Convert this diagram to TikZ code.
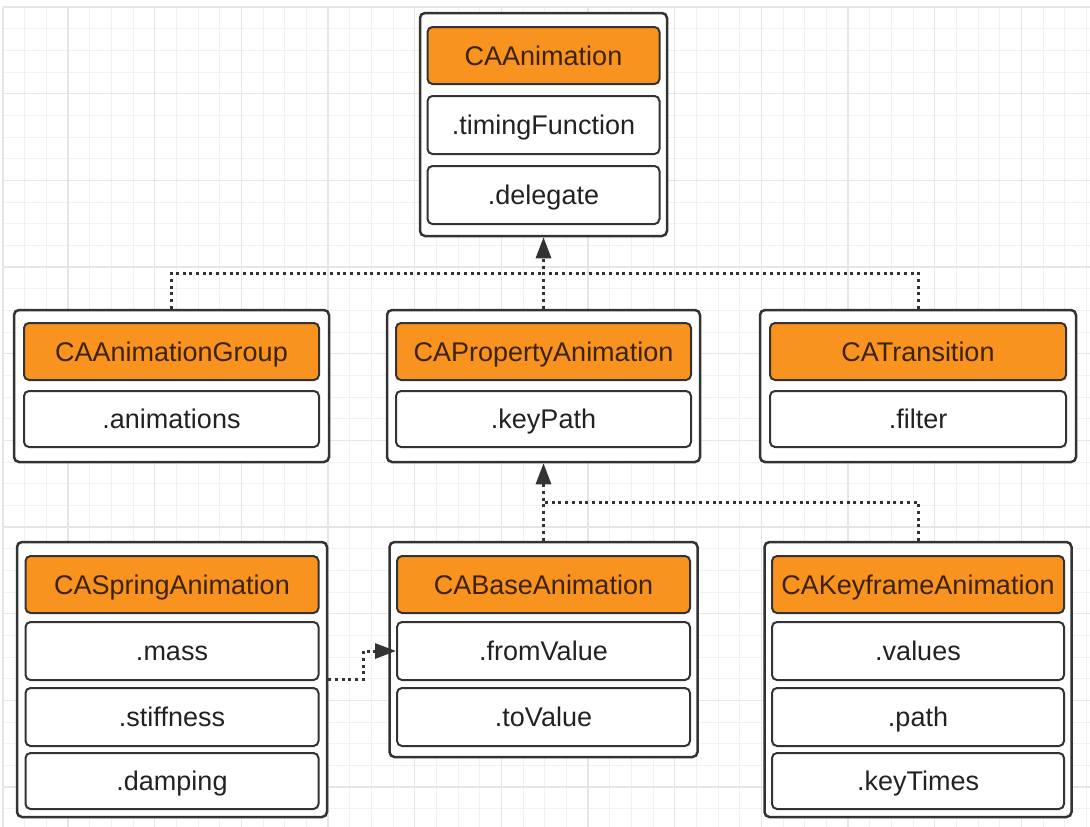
\documentclass[tikz,border=0pt]{standalone}
\usepackage{fontspec}
\setmainfont{Liberation Sans}
\usetikzlibrary{arrows.meta}
\definecolor{caorange}{HTML}{F7931E}
\definecolor{cabrown}{HTML}{3D2208}
\definecolor{caline}{HTML}{333333}
\definecolor{catext}{HTML}{222222}
\definecolor{gridmin}{HTML}{F1F1F1}
\definecolor{gridmaj}{HTML}{E6E6E6}
\begin{document}
\begin{tikzpicture}[x=1pt,y=-1pt,
  outerbox/.style={draw=caline, line width=2.5pt, rounded corners=5pt, fill=white, inner sep=0pt},
  boxtext/.style={font=\fontsize{27}{30}\selectfont, text height=19pt, text depth=0pt, inner sep=0pt, align=center},
  headbox/.style={boxtext, draw=caline, line width=2pt, rounded corners=5pt, fill=caorange, text=cabrown},
  fieldbox/.style={boxtext, draw=caline, line width=2pt, rounded corners=5pt, fill=white, text=catext},
  conn/.style={draw=caline, line width=3pt, dash pattern=on 3pt off 3.7pt},
  inharrow/.style={-{Triangle[length=21pt,width=15pt]}},
  gridminor/.style={draw=gridmin, line width=1pt},
  gridmajor/.style={draw=gridmaj, line width=1.2pt}]
\useasboundingbox (0,0) rectangle (1090,827);
\fill[white] (0,0) rectangle (1090,827);
% grid
\foreach \k in {0,...,50} \draw[gridminor] ({3+21.667*\k},7) -- ({3+21.667*\k},827);
\foreach \k in {0,...,37} \draw[gridminor] (3,{7+21.667*\k}) -- (1090,{7+21.667*\k});
\foreach \k in {0,...,11} \draw[gridmajor] ({68+86.667*\k},7) -- ({68+86.667*\k},827);
\foreach \k in {0,...,9} \draw[gridmajor] (3,{7+86.667*\k}) -- (1090,{7+86.667*\k});
\draw[gridmajor] (3,7) -- (3,827);

% top: CAAnimation
\node[outerbox, minimum width=247pt, minimum height=223pt] (top) at (543.5,124.5) {};
\node[headbox, minimum width=232pt, minimum height=57pt] (tophead) at (543.5,55.5) {CAAnimation};
\node[fieldbox, minimum width=232pt, minimum height=58pt] (timing) at (543.5,125) {.timingFunction};
\node[fieldbox, minimum width=232pt, minimum height=58pt] (delegate) at (543.5,195) {.delegate};

% row 2
\node[outerbox, minimum width=315pt, minimum height=152pt] (group) at (171.5,386) {};
\node[headbox, minimum width=295pt, minimum height=57pt] (grouphead) at (171.5,351.5) {CAAnimationGroup};
\node[fieldbox, minimum width=295pt, minimum height=56pt] (anims) at (171.5,419) {.animations};

\node[outerbox, minimum width=313pt, minimum height=152pt] (prop) at (543.5,386) {};
\node[headbox, minimum width=295pt, minimum height=57pt] (prophead) at (543.5,351.5) {CAPropertyAnimation};
\node[fieldbox, minimum width=295pt, minimum height=56pt] (keypath) at (543.5,419) {.keyPath};

\node[outerbox, minimum width=316pt, minimum height=152pt] (trans) at (918,386) {};
\node[headbox, minimum width=296pt, minimum height=57pt] (transhead) at (918,351.5) {CATransition};
\node[fieldbox, minimum width=296pt, minimum height=56pt] (filter) at (918,419) {.filter};

% row 3
\node[outerbox, minimum width=310pt, minimum height=275pt] (spring) at (172,679.5) {};
\node[headbox, minimum width=293pt, minimum height=57pt] (springhead) at (172,584.5) {CASpringAnimation};
\node[fieldbox, minimum width=293pt, minimum height=58pt] (mass) at (172,651) {.mass};
\node[fieldbox, minimum width=293pt, minimum height=58pt] (stiff) at (172,717) {.stiffness};
\node[fieldbox, minimum width=293pt, minimum height=56pt] (damp) at (172,781) {.damping};

\node[outerbox, minimum width=308pt, minimum height=215pt] (base) at (543.5,649.5) {};
\node[headbox, minimum width=293pt, minimum height=57pt] (basehead) at (543.5,584.5) {CABaseAnimation};
\node[fieldbox, minimum width=293pt, minimum height=58pt] (fromv) at (543.5,651) {.fromValue};
\node[fieldbox, minimum width=293pt, minimum height=58pt] (tov) at (543.5,717) {.toValue};

\node[outerbox, minimum width=307pt, minimum height=275pt] (key) at (918,679.5) {};
\node[headbox, minimum width=292pt, minimum height=57pt] (keyhead) at (918,584.5) {CAKeyframeAnimation};
\node[fieldbox, minimum width=292pt, minimum height=58pt] (values) at (918,651) {.values};
\node[fieldbox, minimum width=292pt, minimum height=58pt] (pathf) at (918,717) {.path};
\node[fieldbox, minimum width=292pt, minimum height=56pt] (keytimes) at (918,781) {.keyTimes};

% connectors
\coordinate (j1) at (543.5,273);
\coordinate (j2) at (543.5,502);
\draw[conn] (group.north) |- (j1);
\draw[conn] (trans.north) |- (j1);
\draw[conn, inharrow] (prop.north) -- (top.south);
\draw[conn] (key.north) |- (j2);
\draw[conn, inharrow] (base.north) -- (prop.south);
\draw[conn, inharrow] (spring.east) -- ++(35,0) |- (fromv.west);
\end{tikzpicture}
\end{document}
